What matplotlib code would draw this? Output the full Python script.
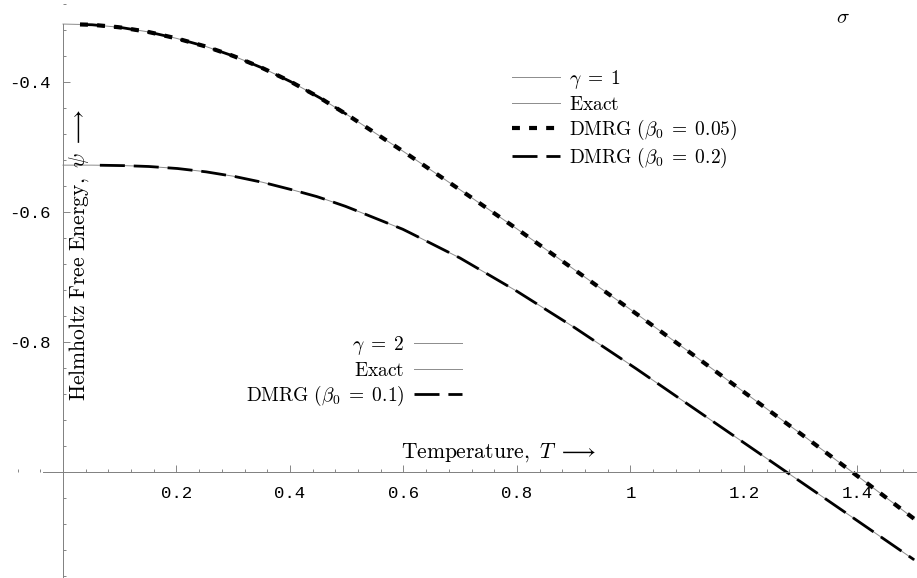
import numpy as np
import matplotlib.pyplot as plt
from matplotlib.lines import Line2D
from matplotlib.ticker import MultipleLocator, FixedLocator

plt.rcParams['mathtext.fontset'] = 'cm'

# =========================
# data
# =========================
T = [0.0, 0.05, 0.1, 0.15, 0.2, 0.25, 0.3, 0.35, 0.4, 0.45, 0.5,
     0.6, 0.7, 0.8, 0.9, 1.0, 1.1, 1.2, 1.3, 1.4, 1.5]

psi_g1 = [-0.311, -0.312, -0.316, -0.323, -0.333, -0.345, -0.360, -0.378,
          -0.399, -0.423, -0.450, -0.507, -0.566, -0.626, -0.688, -0.750,
          -0.813, -0.877, -0.941, -1.006, -1.072]

psi_g2 = [-0.528, -0.528, -0.5285, -0.530, -0.533, -0.538, -0.545, -0.554,
          -0.565, -0.577, -0.592, -0.627, -0.671, -0.722, -0.777,
          -0.835, -0.895, -0.955, -1.015, -1.075, -1.135]

# DMRG curve ranges
g1_b005_start = 0.03     # beta0 = 0.05
g1_b02_range = (0.03, 0.5)   # beta0 = 0.2
g2_b01_start = 0.065     # beta0 = 0.1

x_major = [0.2, 0.4, 0.6, 0.8, 1.0, 1.2, 1.4]
x_labels = ["0.2", "0.4", "0.6", "0.8", "1", "1.2", "1.4"]
y_major = [-0.4, -0.6, -0.8]
y_labels = ["-0.4", "-0.6", "-0.8"]


def clip(xs, ys, lo, hi=10.0):
    xs = np.asarray(xs)
    ys = np.asarray(ys)
    grid = np.linspace(max(lo, xs[0]), min(hi, xs[-1]), 200)
    return grid, np.interp(grid, xs, ys)


# =========================
# figure
# =========================
fig = plt.figure(figsize=(9.17, 5.78), dpi=100)
ax = fig.add_axes([0, 0, 1, 1])
ax.set_xlim(-0.111, 1.505)
ax.set_ylim(-1.163, -0.274)

exact_kw = dict(color="0.55", lw=0.7)
dot_kw = dict(color="black", lw=3.0, linestyle=(0, (1.9, 2.2)))
dash_kw = dict(color="black", lw=2.0, linestyle=(0, (9, 3.2)))

# gamma = 1
ax.plot(T, psi_g1, **exact_kw)
x, y = clip(T, psi_g1, g1_b005_start)
ax.plot(x, y, **dot_kw)
x, y = clip(T, psi_g1, *g1_b02_range)
ax.plot(x, y, **dash_kw)

# gamma = 2
ax.plot(T, psi_g2, **exact_kw)
x, y = clip(T, psi_g2, g2_b01_start)
ax.plot(x, y, **dash_kw)

# =========================
# axes (Mathematica style)
# =========================
for s in ["top", "right"]:
    ax.spines[s].set_visible(False)
ax.spines["left"].set_position(("data", 0.0))
ax.spines["bottom"].set_position(("data", -1.0))
ax.spines["left"].set_bounds(-1.163, -0.311)
ax.spines["bottom"].set_bounds(-0.035, 1.505)
for s in ["left", "bottom"]:
    ax.spines[s].set_color("0.5")
    ax.spines[s].set_linewidth(0.7)

ax.xaxis.set_major_locator(FixedLocator(x_major))
ax.xaxis.set_minor_locator(MultipleLocator(0.04))
ax.yaxis.set_major_locator(FixedLocator(y_major))
ax.yaxis.set_minor_locator(MultipleLocator(0.04))
ax.set_xticklabels(x_labels)
ax.set_yticklabels(y_labels)

ax.tick_params(which="both", direction="in", color="0.45", width=0.6)
ax.tick_params(which="major", length=5)
ax.tick_params(which="minor", length=2.5)
ax.tick_params(axis="x", pad=10)
ax.tick_params(axis="y", pad=9)
for lab in ax.get_xticklabels() + ax.get_yticklabels():
    lab.set_fontfamily("Liberation Mono")
    lab.set_fontsize(12.5)

ax.text(0.0285, -0.667,
        r"$\mathrm{Helmholtz\ Free\ Energy,}\ \psi\ \longrightarrow$",
        rotation=90, ha="center", va="center", fontsize=15.5)
ax.text(0.768, -0.97, r"$\mathrm{Temperature,}\ T\ \longrightarrow$",
        ha="center", va="center", fontsize=15.5)
ax.text(1.375, -0.3, r"$\sigma$", ha="center", va="center", fontsize=15)

# =========================
# legends
# =========================
h_thin = Line2D([], [], **exact_kw)
h_dot = Line2D([], [], **dot_kw)
h_dash = Line2D([], [], **dash_kw)

leg1 = ax.legend([h_thin, h_thin, h_dot, h_dash],
                 [r"$\gamma\;=\;1$", r"$\mathrm{Exact}$",
                  r"$\mathrm{DMRG}\ (\beta_0\;=\;0.05)$",
                  r"$\mathrm{DMRG}\ (\beta_0\;=\;0.2)$"],
                 loc="upper left", bbox_to_anchor=(512 / 917, 1 - 68 / 578),
                 bbox_transform=fig.transFigure, frameon=False, fontsize=14,
                 handlelength=2.45, handletextpad=0.5, labelspacing=0.2,
                 borderpad=0, borderaxespad=0)
ax.add_artist(leg1)

leg2 = ax.legend([h_thin, h_thin, h_dash],
                 [r"$\gamma\;=\;2$", r"$\mathrm{Exact}$",
                  r"$\mathrm{DMRG}\ (\beta_0\;=\;0.1)$"],
                 loc="upper right", bbox_to_anchor=(462 / 917, 1 - 334 / 578),
                 bbox_transform=fig.transFigure, frameon=False, fontsize=14,
                 handlelength=2.45, handletextpad=0.5, labelspacing=0.2,
                 borderpad=0, borderaxespad=0, markerfirst=False,
                 alignment="right")

fig.savefig("out.png", dpi=100)
